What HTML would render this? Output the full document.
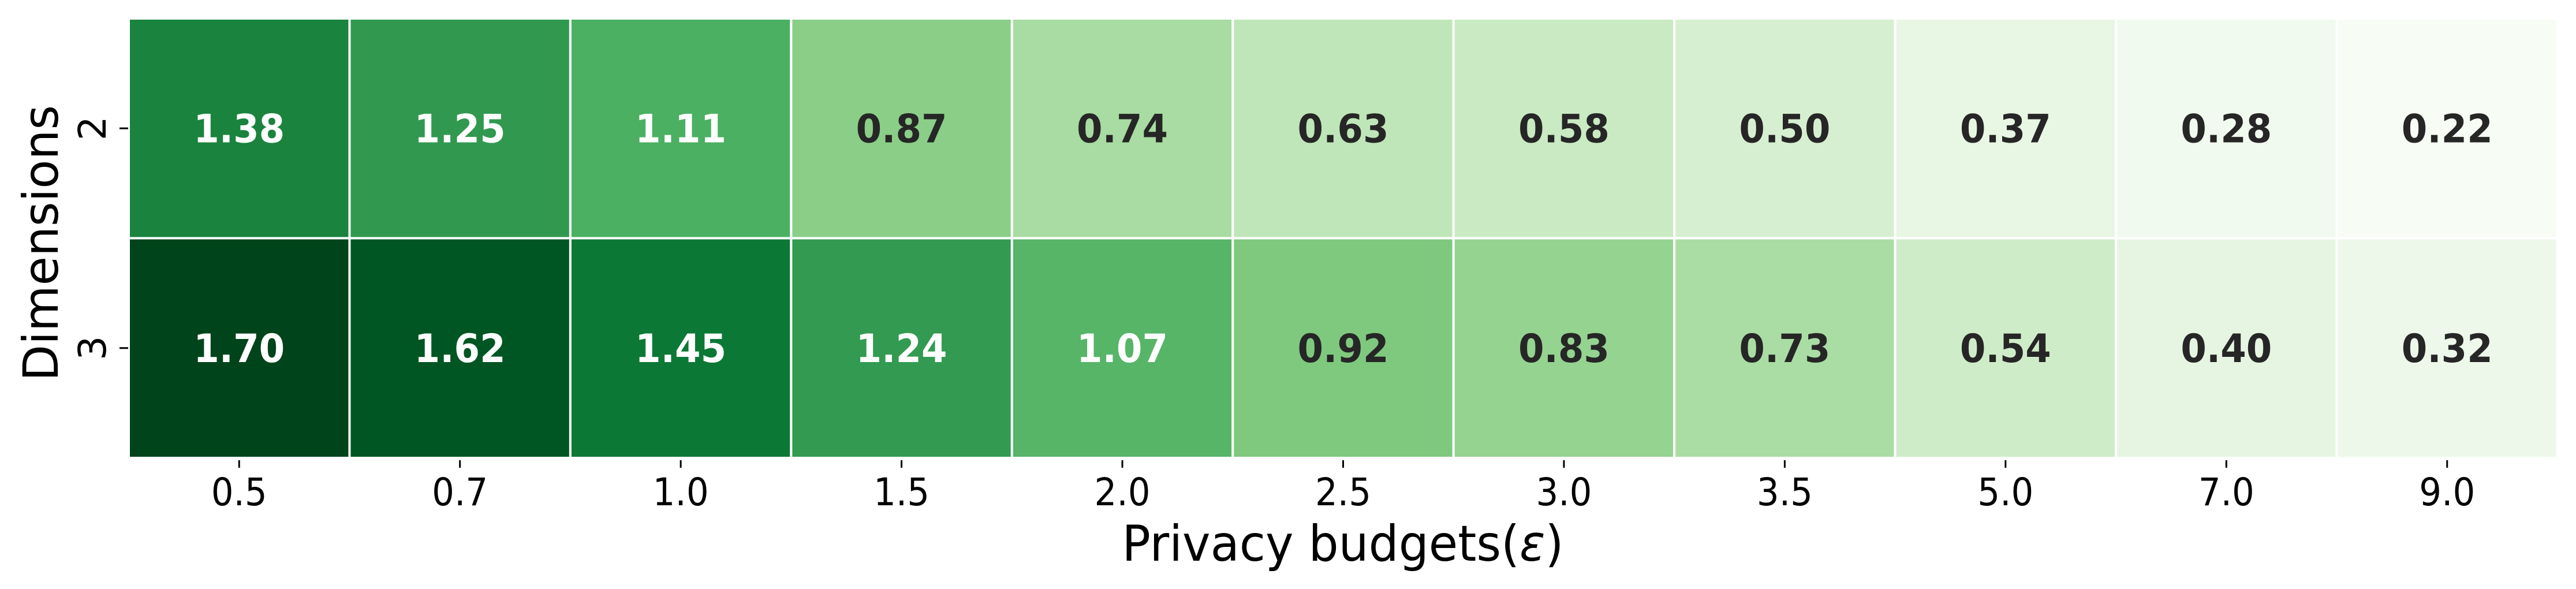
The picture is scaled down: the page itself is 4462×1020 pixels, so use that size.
<!DOCTYPE html>
<html><head><meta charset="utf-8"><style>html,body{margin:0;padding:0;background:#fff}svg{display:block}</style></head>
<body>
<svg id="chart" xmlns="http://www.w3.org/2000/svg" width="4462" height="1020" viewBox="0 0 4462 1020" font-family="DejaVu Sans, Liberation Sans, sans-serif">
<g id="cells"></g>
<g id="xticks"></g>
<g id="yticks"></g>
<text x="2326" y="971" font-size="86" text-anchor="middle" textLength="765" lengthAdjust="spacingAndGlyphs">Privacy budgets(<tspan font-style="italic">ε</tspan>)</text>
<text transform="translate(100,421) rotate(-90)" font-size="84" text-anchor="middle" textLength="478" lengthAdjust="spacingAndGlyphs">Dimensions</text>
</svg>
<script>
const xLabels = ["0.5","0.7","1.0","1.5","2.0","2.5","3.0","3.5","5.0","7.0","9.0"];
const yLabels = ["2","3"];
const row2 = [1.38,1.25,1.11,0.87,0.74,0.63,0.58,0.50,0.37,0.28,0.22];
const row3 = [1.70,1.62,1.45,1.24,1.07,0.92,0.83,0.73,0.54,0.40,0.32];
const rows = [row2, row3];
const NS = "http://www.w3.org/2000/svg";
const L = 223, R = 4430, T = 32, B = 793;
const cw = (R - L) / xLabels.length, ch = (B - T) / yLabels.length;
const xPos = i => L + i * cw;
const yPos = j => T + j * ch;
const all = rows.flat();
const vmin = Math.min(...all), vmax = Math.max(...all);
const stops = ["#f7fcf5","#e5f5e0","#c7e9c0","#a1d99b","#74c476","#41ab5d","#238b45","#006d2c","#00441b"].map(h=>[1,3,5].map(k=>parseInt(h.substr(k,2),16)));
function color(v){
  let t = (v - vmin) / (vmax - vmin); t = Math.max(0, Math.min(1, t));
  const p = t * (stops.length - 1), i = Math.min(Math.floor(p), stops.length - 2), f = p - i;
  const c = stops[i].map((a,k)=>Math.round(a + (stops[i+1][k]-a)*f));
  return {css:`rgb(${c[0]},${c[1]},${c[2]})`, t};
}
function mk(tag, attrs, parent){const e=document.createElementNS(NS,tag);for(const k in attrs)e.setAttribute(k,attrs[k]);parent.appendChild(e);return e;}
const gc = document.getElementById('cells');
rows.forEach((row, j) => {
  row.forEach((v, i) => {
    const c = color(v);
    const r = mk('rect', {x:xPos(i), y:yPos(j), width:cw, height:ch, fill:c.css, stroke:'#fff', 'stroke-width':4}, gc);
    
    
    const t = mk('text', {x:xPos(i)+cw/2, y:yPos(j)+ch/2+24, 'font-size':68, 'font-weight':'bold', 'text-anchor':'middle', fill: c.t > 0.52 ? '#ffffff' : '#262626', textLength:158, lengthAdjust:'spacingAndGlyphs'}, gc);
    t.textContent = v.toFixed(2);
    
    
  });
});
const gx = document.getElementById('xticks');
xLabels.forEach((lab, i) => {
  const cx = xPos(i) + cw/2;
  const tk = mk('line', {x1:cx, x2:cx, y1:B+4, y2:B+17, stroke:'#000', 'stroke-width':3}, gx);
  
  
  const t = mk('text', {x:cx, y:875, 'font-size':66, 'text-anchor':'middle', textLength:97, lengthAdjust:'spacingAndGlyphs'}, gx);
  t.textContent = lab;
  
  
});
const gy = document.getElementById('yticks');
yLabels.forEach((lab, j) => {
  const cy = yPos(j) + ch/2;
  const tk = mk('line', {x1:207, x2:222, y1:cy, y2:cy, stroke:'#000', 'stroke-width':3}, gy);
  
  
  const t = mk('text', {transform:`translate(183,${cy}) rotate(-90)`, 'font-size':66, 'text-anchor':'middle'}, gy);
  t.textContent = lab;
  
  
});
</script>
</body></html>
